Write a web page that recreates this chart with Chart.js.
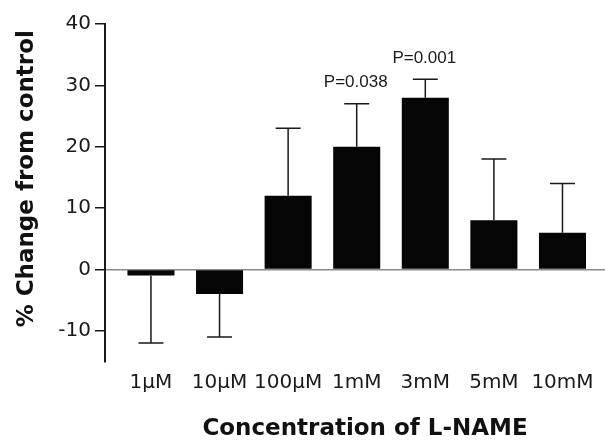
<!DOCTYPE html>
<html>
<head>
<meta charset="utf-8">
<script src="https://cdn.jsdelivr.net/npm/chart.js@4"></script>
<style>
  html, body { margin: 0; padding: 0; background: #fff; }
  #wrap { width: 605px; height: 440px; }
</style>
</head>
<body>
<div id="wrap"><canvas id="chart" width="605" height="440"></canvas></div>
<script>
// Values
const concentrations = ['1\u03bcM', '10\u03bcM', '100\u03bcM', '1mM', '3mM', '5mM', '10mM'];
const meanChange = [-1, -4, 12, 20, 28, 8, 6];
const errorSize = [11, 7, 11, 7, 3, 10, 8];
const pValues = ['', '', '', 'P=0.038', 'P=0.001', '', ''];
const yTicks = [-10, 0, 10, 20, 30, 40];
const xTitle = 'Concentration of L-NAME';
const yTitle = '% Change from control';

// Error bars and P labels
const errorBars = {
  id: 'errorBars',
  afterDatasetsDraw(chart) {
    const ctx = chart.ctx;
    const x = chart.scales.x;
    const y = chart.scales.y;
    ctx.save();
    ctx.strokeStyle = '#1a1a1a';
    ctx.lineWidth = 1.5;
    meanChange.forEach((v, i) => {
      const end = v < 0 ? v - errorSize[i] : v + errorSize[i];
      const px = x.getPixelForValue(i);
      const y0 = y.getPixelForValue(v);
      const y1 = y.getPixelForValue(end);
      ctx.beginPath();
      ctx.moveTo(px, y0);
      ctx.lineTo(px, y1);
      ctx.moveTo(px - 12.5, y1);
      ctx.lineTo(px + 12.5, y1);
      ctx.stroke();
      if (pValues[i]) {
        ctx.fillStyle = '#1a1a1a';
        ctx.font = '17px "Liberation Sans", Arial, sans-serif';
        ctx.textAlign = 'center';
        ctx.textBaseline = 'middle';
        ctx.fillText(pValues[i], px - 1, y1 - 21);
      }
    });
    ctx.restore();
  }
};

// Axis titles (the original figure has them off-centre)
const axisTitles = {
  id: 'axisTitles',
  afterDraw(chart) {
    const ctx = chart.ctx;
    const area = chart.chartArea;
    ctx.save();
    ctx.fillStyle = '#111';
    ctx.font = 'bold 23px "DejaVu Sans"';
    ctx.textAlign = 'center';
    ctx.textBaseline = 'alphabetic';
    ctx.fillText(xTitle, (area.left + area.right) / 2 + 10, chart.height - 5);
    ctx.translate(33, (area.top + area.bottom) / 2 - 14);
    ctx.rotate(-Math.PI / 2);
    ctx.fillText(yTitle, 0, 0);
    ctx.restore();
  }
};

new Chart(document.getElementById('chart'), {
  type: 'bar',
  data: {
    datasets: [{
      data: meanChange.map((v, i) => ({ x: i, y: v })),
      backgroundColor: '#050505',
      borderWidth: 0,
      categoryPercentage: 1,
      barPercentage: 0.686
    }]
  },
  options: {
    responsive: false,
    animation: false,
    layout: { padding: { top: 24, left: 0, right: 0, bottom: 0 } },
    plugins: { legend: { display: false }, tooltip: { enabled: false } },
    scales: {
      x: {
        type: 'linear',
        offset: false,
        min: -0.67,
        max: 6.62,
        grid: { display: false, drawTicks: false },
        border: { display: false },
        ticks: {
          stepSize: 1,
          includeBounds: false,
          padding: 9,
          color: '#1a1a1a',
          font: { family: 'DejaVu Sans', size: 20 },
          autoSkip: false,
          maxRotation: 0,
          callback: v => concentrations[v] || ''
        },
        afterFit: s => { s.height = 78.5; }
      },
      y: {
        min: -15,
        max: 40,
        afterBuildTicks: s => { s.ticks = yTicks.map(v => ({ value: v })); },
        grid: {
          color: c => c.tick && c.tick.value === 0 ? '#8a8a8a' : 'rgba(0,0,0,0)',
          lineWidth: 1.5,
          tickColor: '#1a1a1a',
          tickLength: 10,
          drawOnChartArea: true
        },
        border: { display: true, color: '#1a1a1a', width: 2 },
        ticks: {
          padding: 4,
          color: '#1a1a1a',
          font: { family: 'DejaVu Sans', size: 20 }
        },
        afterFit: s => { s.width = 105; }
      }
    }
  },
  plugins: [errorBars, axisTitles]
});
</script>
</body>
</html>
